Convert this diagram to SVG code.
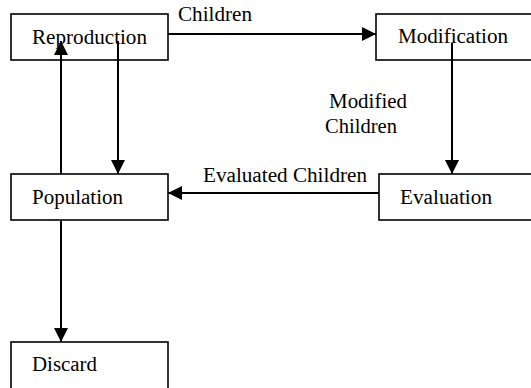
<svg xmlns="http://www.w3.org/2000/svg" width="531" height="388" viewBox="0 0 531 388">
<style>
.box{fill:#fff;stroke:#000;stroke-width:1.6}
.t{font-family:"Liberation Serif","Times New Roman",serif;font-size:20px;fill:#000}
.c{stroke:#000;stroke-width:2;fill:none;marker-end:url(#ah)}
</style>
<defs>
<marker id="ah" markerUnits="userSpaceOnUse" markerWidth="14" markerHeight="14" viewBox="0 0 14 14" refX="14" refY="7" orient="auto">
<path d="M0,0 L14,7 L0,14 Z" fill="#000"/>
</marker>
</defs>
<rect width="531" height="388" fill="#fff"/>
<g id="reproduction"><rect class="box" x="11" y="14" width="157" height="46"/><text class="t" x="32" y="44" textLength="115" lengthAdjust="spacingAndGlyphs">Reproduction</text></g>
<g id="modification"><rect class="box" x="376" y="14" width="170" height="46"/><text class="t" x="398" y="43" textLength="110" lengthAdjust="spacingAndGlyphs">Modification</text></g>
<g id="population"><rect class="box" x="11" y="174" width="157" height="46"/><text class="t" x="32" y="204" textLength="91" lengthAdjust="spacingAndGlyphs">Population</text></g>
<g id="evaluation"><rect class="box" x="379" y="174" width="170" height="46"/><text class="t" x="400" y="204" textLength="92" lengthAdjust="spacingAndGlyphs">Evaluation</text></g>
<g id="discard"><rect class="box" x="11" y="342" width="157" height="60"/><text class="t" x="32" y="371" textLength="65" lengthAdjust="spacingAndGlyphs">Discard</text></g>
<g id="connectors">
<line class="c" x1="168" y1="34" x2="376" y2="34"/>
<line class="c" x1="452" y1="43" x2="452" y2="174"/>
<line class="c" x1="379" y1="193" x2="168" y2="193"/>
<line class="c" x1="118" y1="41" x2="118" y2="174"/>
<line class="c" x1="61" y1="174" x2="61" y2="41"/>
<line class="c" x1="61" y1="221" x2="61" y2="342"/>
<text class="t" x="178" y="21" textLength="74" lengthAdjust="spacingAndGlyphs">Children</text>
<text class="t" x="329" y="108" textLength="78" lengthAdjust="spacingAndGlyphs">Modified</text>
<text class="t" x="325" y="133" textLength="72" lengthAdjust="spacingAndGlyphs">Children</text>
<text class="t" x="203" y="182" textLength="164" lengthAdjust="spacingAndGlyphs">Evaluated Children</text>
</g>
</svg>
